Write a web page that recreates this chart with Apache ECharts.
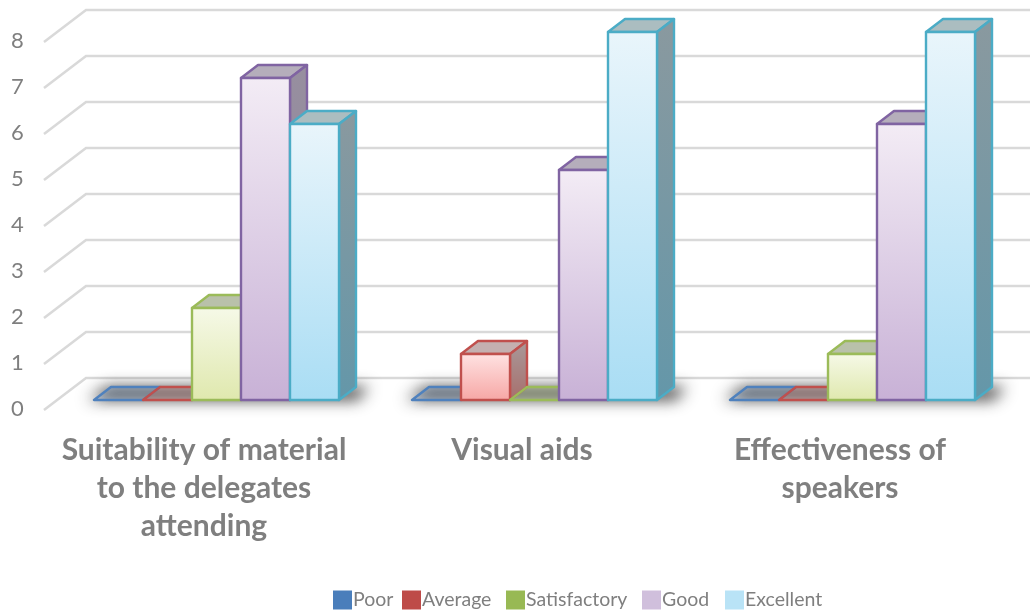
<!DOCTYPE html>
<html>
<head>
    <meta charset="utf-8">
    <title>Feedback chart</title>
    <script src="https://cdn.jsdelivr.net/npm/echarts@6/dist/echarts.min.js"></script>
    <style>
        html, body { margin: 0; padding: 0; background: #fff; }
        #chart { width: 1030px; height: 614px; }
    </style>
</head>
<body>
<div id="chart"></div>
<script>
    var categories = ['Suitability of material\nto the delegates\nattending', 'Visual aids', 'Effectiveness of\nspeakers'];
    var levels = ['Poor', 'Average', 'Satisfactory', 'Good', 'Excellent'];
    var poor = [0, 0, 0];
    var average = [0, 1, 0];
    var satisfactory = [2, 0, 1];
    var good = [7, 5, 6];
    var excellent = [6, 8, 8];
    var yTicks = [0, 1, 2, 3, 4, 5, 6, 7, 8];

    var values = [poor, average, satisfactory, good, excellent];

    // swatch, border, front top/bottom, side top/bottom, lid, lid when the value is 0
    var looks = [
        { swatch: '#4a7ebb', line: '#4f81bd', front: ['#dce6f2', '#a7c0e0'], side: ['#7f8a9a', '#6f7f95'], lid: '#8a94a5', flat: 'rgba(79,129,189,0.18)', left: 333 },
        { swatch: '#be4b48', line: '#c0504d', front: ['#ffe3e3', '#f6a6a4'], side: ['#a89a9a', '#a86e6c'], lid: '#c4b0b0', flat: 'rgba(192,80,77,0.18)', left: 402 },
        { swatch: '#98b954', line: '#9bbb59', front: ['#f6f9e8', '#dfe8ad'], side: ['#a3ab8c', '#98a478'], lid: '#b9c1aa', flat: 'rgba(155,187,89,0.2)', left: 506 },
        { swatch: '#d0bfdc', line: '#8064a2', front: ['#f3ecf5', '#c8b1d6'], side: ['#978f9f', '#90829f'], lid: '#b5aebb', flat: 'rgba(128,100,162,0.2)', left: 642 },
        { swatch: '#b9e3f6', line: '#4bacc6', front: ['#e9f5fb', '#a9ddf4'], side: ['#8a999f', '#6497a9'], lid: '#abbdc0', flat: 'rgba(75,172,198,0.2)', left: 725 }
    ];

    var barW = 49, depthX = 17, depthY = 13;
    var gradient = function (c) {
        return new echarts.graphic.LinearGradient(0, 0, 0, 1, [{ offset: 0, color: c[0] }, { offset: 1, color: c[1] }]);
    };

    var renderBar = function (i) {
        return function (params, api) {
            var base = api.coord([api.value(0), 0]);
            var top = api.coord([api.value(0), api.value(1)]);
            var x0 = base[0] - 2.5 * barW + i * barW, x1 = x0 + barW;
            var look = looks[i];
            var edge = { stroke: look.line, lineWidth: 2.4, lineJoin: 'round' };
            var flat = base[1] - top[1] < 1;
            var kids = [{
                type: 'polygon',
                shape: { points: [[x0, top[1]], [x1, top[1]], [x1 + depthX, top[1] - depthY], [x0 + depthX, top[1] - depthY]] },
                style: Object.assign({ fill: flat ? look.flat : look.lid }, edge)
            }];
            if (!flat) {
                kids.push({
                    type: 'polygon',
                    shape: { points: [[x1, top[1]], [x1 + depthX, top[1] - depthY], [x1 + depthX, base[1] - depthY], [x1, base[1]]] },
                    style: Object.assign({ fill: gradient(look.side) }, edge)
                });
                kids.push({
                    type: 'rect',
                    shape: { x: x0, y: top[1], width: barW, height: base[1] - top[1] },
                    style: Object.assign({ fill: gradient(look.front) }, edge)
                });
            }
            return { type: 'group', children: kids };
        };
    };

    // only the blur shows: the shape itself sits off the canvas
    var renderShadow = function (params, api) {
        var base = api.coord([api.value(0), 0]);
        var x0 = base[0] - 2.5 * barW, x1 = x0 + 5 * barW;
        var away = 2000;
        return {
            type: 'polygon',
            shape: { points: [
                [x0 - 6 - away, base[1]],
                [x1 + 18 - away, base[1]],
                [x1 + 30 - away, base[1] - depthY],
                [x0 + depthX - 4 - away, base[1] - depthY]
            ] },
            style: { fill: '#000', shadowBlur: 15, shadowOffsetX: away, shadowColor: 'rgba(30,30,30,0.85)' }
        };
    };

    var renderGrid = function (params, api) {
        var p = api.coord([0, api.value(0)]);
        var yBack = p[1] - 22, yFront = p[1] + 10;
        return {
            type: 'polyline',
            shape: { points: [[44, yFront], [86, yBack], [api.getWidth(), yBack]] },
            style: { stroke: '#d9d9d9', lineWidth: 2.5, fill: null }
        };
    };

    var series = [
        { type: 'custom', name: 'grid', coordinateSystem: 'cartesian2d', clip: false, z: 1, silent: true,
          renderItem: renderGrid, data: yTicks.map(function (t) { return [t]; }), encode: { y: 0 } },
        { type: 'custom', name: 'shadow', coordinateSystem: 'cartesian2d', clip: false, z: 2, silent: true,
          renderItem: renderShadow, data: categories.map(function (c, k) { return [k, 0]; }), encode: { x: 0, y: 1 } }
    ];
    levels.forEach(function (name, i) {
        series.push({
            type: 'custom',
            name: name,
            coordinateSystem: 'cartesian2d',
            clip: false,
            z: 3,
            itemStyle: { color: looks[i].swatch },
            renderItem: renderBar(i),
            data: values[i].map(function (v, k) { return [k, v]; }),
            encode: { x: 0, y: 1 }
        });
    });

    // one legend per entry, the gaps in the picture are not even
    var legends = levels.map(function (name, i) {
        return {
            data: [name],
            left: looks[i].left,
            top: 590,
            padding: 0,
            icon: 'rect',
            itemWidth: 19,
            itemHeight: 19,
            selectedMode: false,
            textStyle: { color: '#7f7f7f', fontSize: 19.5, fontFamily: 'Lato', padding: [0, 0, 0, -4] }
        };
    });

    var chart = echarts.init(document.getElementById('chart'));
    chart.setOption({
        backgroundColor: '#ffffff',
        animation: false,
        textStyle: { fontFamily: 'Lato' },
        grid: { left: 57.5, top: 32, width: 954, height: 368, containLabel: false },
        legend: legends,
        xAxis: {
            type: 'category',
            data: categories,
            axisLine: { show: false },
            axisTick: { show: false },
            splitLine: { show: false },
            axisLabel: {
                interval: 0,
                margin: 31,
                color: '#7f7f7f',
                fontSize: 30,
                fontWeight: 'bold',
                lineHeight: 38,
                fontFamily: 'Lato',
                padding: [0, 25, 0, 0]
            }
        },
        yAxis: {
            type: 'value',
            min: 0,
            max: 8,
            interval: 1,
            axisLine: { show: false },
            axisTick: { show: false },
            splitLine: { show: false },
            axisLabel: {
                margin: 40,
                align: 'center',
                verticalAlign: 'top',
                lineHeight: 18,
                color: '#7f7f7f',
                fontSize: 22,
                fontFamily: 'Lato'
            }
        },
        series: series
    });

    window.onresize = function () {
        chart.resize();
    };
</script>
</body>
</html>
